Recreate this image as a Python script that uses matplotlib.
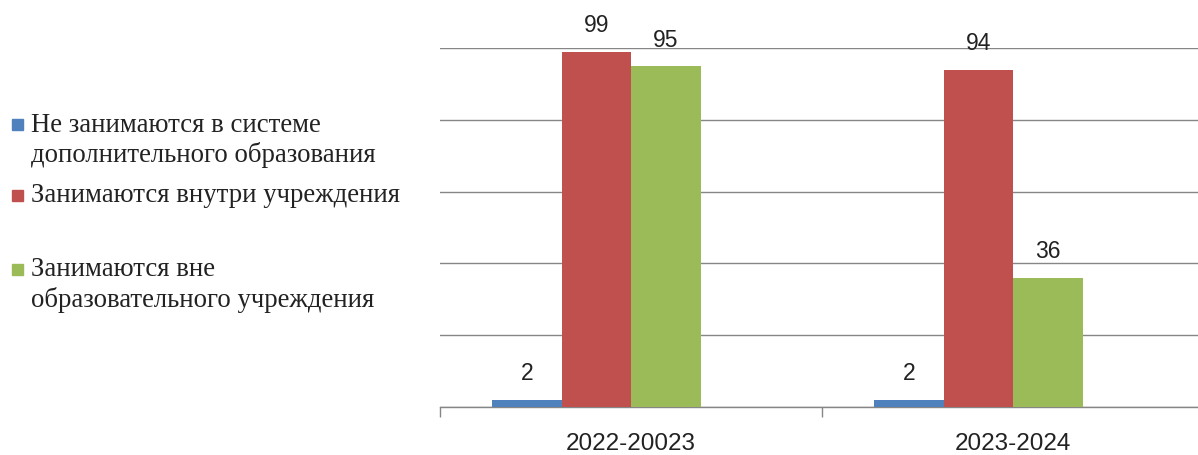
import matplotlib
matplotlib.use('Agg')
import matplotlib.pyplot as plt
from matplotlib.patches import Rectangle
import numpy as np

# Данные
years = ['2022-20023', '2023-2024']
series_names = [
    'Не занимаются в системе\nдополнительного образования',
    'Занимаются внутри учреждения',
    'Занимаются вне\nобразовательного учреждения',
]
not_involved = [2, 2]
inside = [99, 94]
outside = [95, 36]

COLORS = ['#4F81BD', '#C0504D', '#9BBB59']

fig = plt.figure(figsize=(11.98, 4.55), dpi=100)
W, H = 1198, 455

# Область графика (в пикселях: слева 440, снизу 407, сверху 48)
ax = fig.add_axes([440 / W, (H - 407) / H, 764 / W, 359 / H])
ax.set_xlim(-0.5, 1.5)
ax.set_ylim(0, 100)

x = np.arange(len(years))
bw = 69.5 / 382
# Четыре слота в группе (как в Excel), последний пустой
offsets = [-1.5 * bw, -0.5 * bw, 0.5 * bw]
for vals, off, c in zip([not_involved, inside, outside], offsets, COLORS):
    bars = ax.bar(x + off, vals, width=bw, color=c, edgecolor='none', zorder=3)
    for b, v in zip(bars, vals):
        ax.text(b.get_x() + b.get_width() / 2, v + 4, str(v), ha='center',
                va='bottom', fontsize=16.5, family='Liberation Sans', color='#222222')

# Сетка
ax.set_yticks([0, 20, 40, 60, 80, 100])
ax.grid(axis='y', color='#868686', linewidth=1, zorder=0)
ax.tick_params(axis='y', left=False, labelleft=False)
for s in ['top', 'right', 'left']:
    ax.spines[s].set_visible(False)
ax.spines['bottom'].set_color('#868686')
ax.spines['bottom'].set_linewidth(1)

# Подписи категорий и деления между ними
ax.set_xticks(x, years)
ax.tick_params(axis='x', length=0, pad=27, labelsize=17.5)
for t in ax.get_xticklabels():
    t.set_family('Liberation Sans')
    t.set_color('#222222')
    t.set_verticalalignment('center')
ax.set_xticks([-0.5, 0.5, 1.5], minor=True)
ax.tick_params(axis='x', which='minor', length=7, color='#868686', width=1)

# Легенда слева (центры первых строк, пиксели сверху)
legend_y = [125, 196, 270]
for name, y, c in zip(series_names, legend_y, COLORS):
    fig.patches.append(Rectangle((12 / W, (H - y - 5) / H), 11 / W, 11 / H,
                                 transform=fig.transFigure, color=c))
    for i, line in enumerate(name.split('\n')):
        fig.text(31 / W, (H - y - 30 * i) / H, line, ha='left', va='center',
                 fontsize=19.3, family='Liberation Serif', color='#222222')

fig.savefig('out.png', dpi=100)
